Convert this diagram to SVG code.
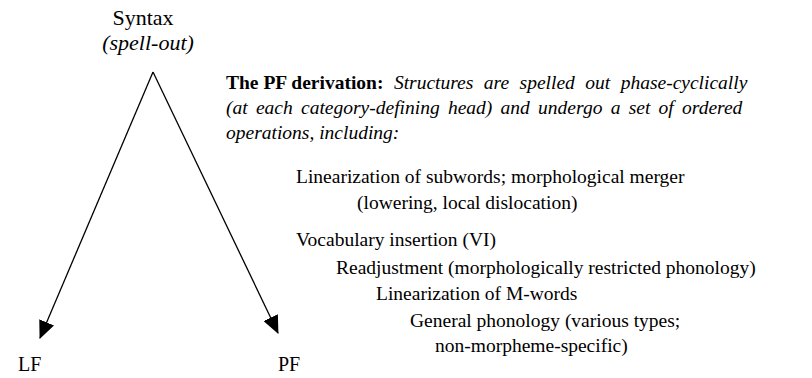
<svg xmlns="http://www.w3.org/2000/svg" width="812" height="378" viewBox="0 0 812 378" font-family="'Liberation Serif', 'Times New Roman', serif">
<style>
text{font-family:'Liberation Serif','Times New Roman',serif;font-size:19.5px;fill:#000}
.b{font-weight:bold}
.i{font-style:italic}
.c{stroke:#000;stroke-width:1.3;fill:none}
</style>
<defs>
<marker id="ah" markerUnits="userSpaceOnUse" markerWidth="18" markerHeight="16" viewBox="0 0 18 16" refX="17" refY="8" orient="auto">
<path d="M0,0 L18,8 L0,16 Z" fill="#000"/>
</marker>
</defs>
<rect width="812" height="378" fill="#fff"/>
<g id="syntax">
<text x="143" y="25" text-anchor="middle" style="font-size:22px">Syntax</text>
<text x="148" y="50" text-anchor="middle" class="i" style="font-size:22px">(spell-out)</text>
</g>
<g id="connectors">
<line class="c" x1="153" y1="72" x2="40" y2="338" marker-end="url(#ah)"/>
<line class="c" x1="153" y1="72" x2="278" y2="333" marker-end="url(#ah)"/>
</g>
<g id="lf"><text x="18" y="371" style="font-size:20px">LF</text></g>
<g id="pf"><text x="278" y="371" style="font-size:20px">PF</text></g>
<g id="derivation">
<text x="226" y="89"><tspan class="b">The PF derivation:</tspan><tspan class="i" word-spacing="5.6"> Structures are spelled out phase-cyclically</tspan></text>
<text x="226" y="114" class="i" word-spacing="3.4">(at each category-defining head) and undergo a set of ordered</text>
<text x="226" y="139" class="i">operations, including:</text>
<text x="296" y="183">Linearization of subwords; morphological merger</text>
<text x="357" y="209">(lowering, local dislocation)</text>
<text x="296" y="246">Vocabulary insertion (VI)</text>
<text x="336" y="274">Readjustment (morphologically restricted phonology)</text>
<text x="376" y="300">Linearization of M-words</text>
<text x="410" y="327">General phonology (various types;</text>
<text x="435" y="352">non-morpheme-specific)</text>
</g>
</svg>
